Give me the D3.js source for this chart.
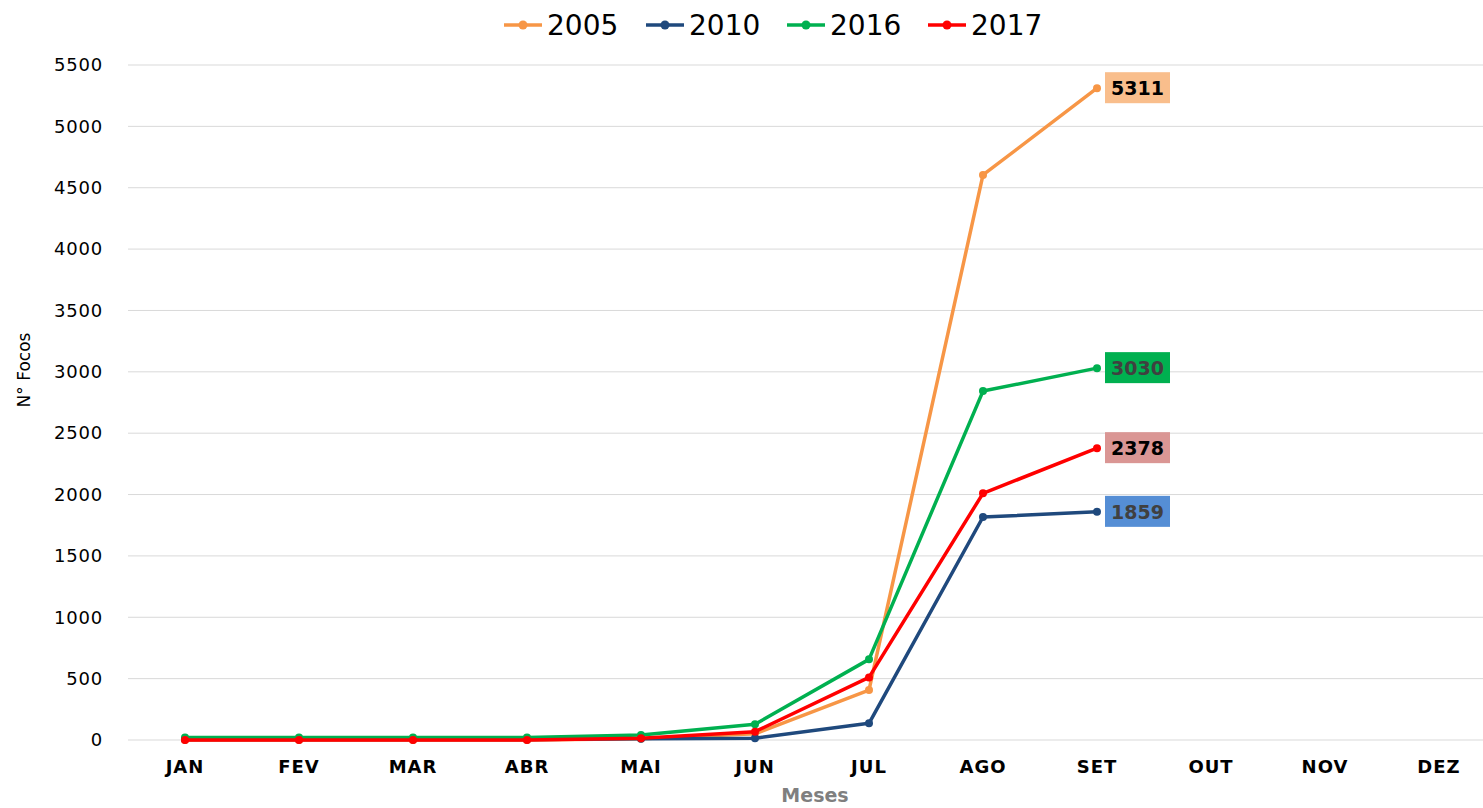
<!DOCTYPE html>
<html><head><meta charset="utf-8">
<script src="https://cdn.jsdelivr.net/npm/d3@7"></script>
<style>body{margin:0;background:#fff;} svg{display:block;}</style>
</head><body>
<script>
const months = ["JAN","FEV","MAR","ABR","MAI","JUN","JUL","AGO","SET","OUT","NOV","DEZ"];
const yTicks = [0,500,1000,1500,2000,2500,3000,3500,4000,4500,5000,5500];
const years = ["2005","2010","2016","2017"];
const s2005 = [0,0,0,0,10,50,407,4604,5311];
const s2010 = [5,5,5,5,10,15,136,1817,1859];
const s2016 = [20,20,20,20,40,128,657,2843,3030];
const s2017 = [0,0,0,0,15,68,510,2010,2378];
const lineColors = ["#F79646","#1F497D","#00B050","#FF0000"];
const labelFill = ["#F9BE8C","#558ED5","#00B050","#DA9694"];
const labelText = ["#000000","#404040","#404040","#000000"];

const W=1483,H=808;
const FONT="'DejaVu Sans', sans-serif";
const svg=d3.select("body").append("svg").attr("width",W).attr("height",H);
const x=d3.scaleBand().domain(months).range([128,1496]);
const y=d3.scaleLinear().domain([0,5500]).range([740,65]);

// gridlines
svg.append("g").selectAll("line").data(yTicks).join("line")
  .attr("x1",128).attr("x2",W).attr("y1",d=>y(d)).attr("y2",d=>y(d))
  .attr("stroke","#d9d9d9").attr("stroke-width",1);

// y tick labels
const yAxis=svg.append("g").attr("transform","translate(128,0)")
  .call(d3.axisLeft(y).tickValues(yTicks).tickFormat(d3.format("d")).tickSize(0).tickPadding(25));
yAxis.select(".domain").remove();
yAxis.selectAll("text").attr("font-family",FONT).attr("font-size",18).attr("letter-spacing",0.8).attr("fill","#000");

// x tick labels
const xAxis=svg.append("g").attr("transform","translate(0,740)")
  .call(d3.axisBottom(x).tickSize(0).tickPadding(20));
xAxis.select(".domain").remove();
xAxis.selectAll("text").attr("font-family",FONT).attr("font-weight","bold").attr("font-size",18).attr("letter-spacing",1).attr("fill","#000");

// axis titles
svg.append("text").attr("transform","translate(30,370) rotate(-90)").attr("text-anchor","middle")
  .attr("font-family",FONT).attr("font-size",17).attr("fill","#000").text("N° Focos");
svg.append("text").attr("x",815).attr("y",802).attr("text-anchor","middle")
  .attr("font-family",FONT).attr("font-weight","bold").attr("font-size",19).attr("fill","#7f7f7f").text("Meses");

const series=[s2005,s2010,s2016,s2017];
const line=d3.line().x((d,i)=>x(months[i])+x.bandwidth()/2).y(d=>y(d));
series.forEach((s,k)=>{
  const g=svg.append("g");
  g.append("path").datum(s).attr("d",line).attr("fill","none").attr("stroke",lineColors[k]).attr("stroke-width",3.5).attr("stroke-linejoin","round");
  g.selectAll("circle").data(s).join("circle")
    .attr("cx",(d,i)=>x(months[i])+x.bandwidth()/2).attr("cy",d=>y(d)).attr("r",4).attr("fill",lineColors[k]);
});

// data labels at last point
series.forEach((s,k)=>{
  const i=s.length-1, v=s[i];
  const cx=x(months[i])+x.bandwidth()/2, cy=y(v);
  const g=svg.append("g");
  g.append("rect").attr("x",cx+8).attr("y",cy-16).attr("width",65).attr("height",31).attr("fill",labelFill[k]);
  g.append("text").attr("x",cx+40.5).attr("y",cy+7).attr("text-anchor","middle")
    .attr("font-family",FONT).attr("font-weight","bold").attr("font-size",19)
    .attr("fill",labelText[k]).text(v);
});

// legend
const legX=[504,646,787,928];
years.forEach((yr,k)=>{
  const g=svg.append("g").attr("transform",`translate(${legX[k]},25)`);
  g.append("line").attr("x1",0).attr("x2",38).attr("y1",0).attr("y2",0).attr("stroke",lineColors[k]).attr("stroke-width",3.5);
  g.append("circle").attr("cx",19).attr("cy",0).attr("r",4.5).attr("fill",lineColors[k]);
  g.append("text").attr("x",43).attr("y",10).attr("font-family",FONT).attr("font-size",28).attr("fill","#000").text(yr);
});
</script>
</body></html>
